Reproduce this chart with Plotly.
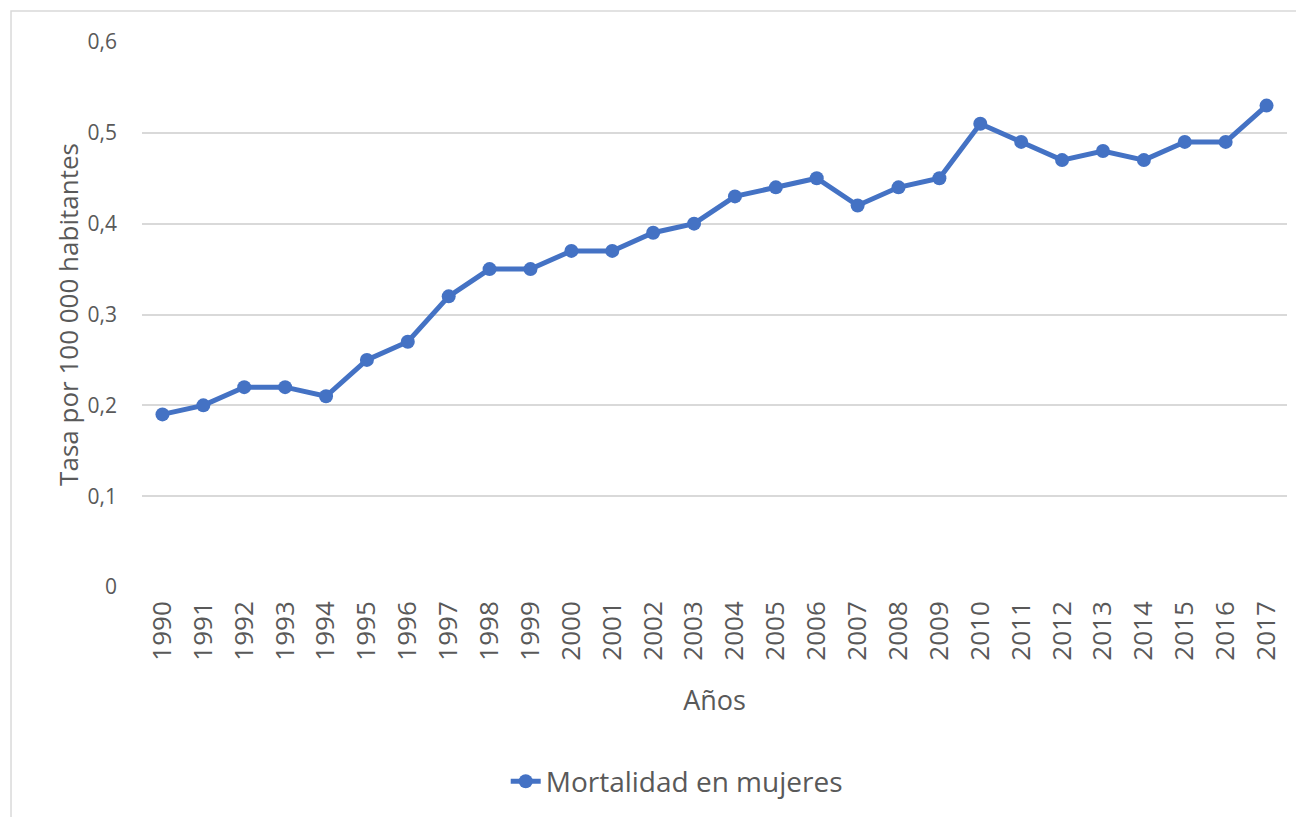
import plotly.graph_objects as go

years = [str(y) for y in range(1990, 2018)]
values = [0.19, 0.20, 0.22, 0.22, 0.21, 0.25, 0.27, 0.32, 0.35, 0.35,
          0.37, 0.37, 0.39, 0.40, 0.43, 0.44, 0.45, 0.42, 0.44, 0.45,
          0.51, 0.49, 0.47, 0.48, 0.47, 0.49, 0.49, 0.53]
series_name = "Mortalidad en mujeres"
y_ticks = [0, 0.1, 0.2, 0.3, 0.4, 0.5, 0.6]
y_labels = ["0", "0,1", "0,2", "0,3", "0,4", "0,5", "0,6"]

FONT = "Open Sans, Lato, sans-serif"
TXT = "#595959"
BLUE = "#4472C4"

fig = go.Figure()
fig.add_trace(go.Scatter(
    x=years, y=values, name=series_name, mode="lines+markers",
    line=dict(color=BLUE, width=5),
    marker=dict(color=BLUE, size=14),
))

fig.update_layout(
    width=1304, height=817,
    paper_bgcolor="white", plot_bgcolor="white",
    margin=dict(l=134, r=25, t=34, b=238),
    font=dict(family=FONT, color=TXT, size=18),
    showlegend=True,
    legend=dict(orientation="h", x=0.467, xanchor="center", y=-0.357, yanchor="middle",
                font=dict(size=28, color=TXT, family=FONT)),
    shapes=[dict(type="rect", xref="paper", yref="paper",
                 x0=-0.1144, x1=1.06, y0=-0.6, y1=1.057,
                 line=dict(color="#D9D9D9", width=1.5), layer="below")],
)
fig.update_xaxes(
    type="category", range=[-0.5, 27.5], automargin=False,
    tickangle=-90, showgrid=False, zeroline=False,
    showline=False, ticks="", tickfont=dict(size=26, color=TXT),
    ticklabelstandoff=8,
    title=dict(text="Años", font=dict(size=27, color=TXT), standoff=31),
)
fig.update_yaxes(
    range=[0, 0.6], tickvals=y_ticks, ticktext=y_labels, automargin=False,
    showgrid=True, gridcolor="#D9D9D9", gridwidth=1.5, zeroline=False,
    ticks="", tickfont=dict(size=21, color=TXT), ticklabelstandoff=24,
    title=dict(text="Tasa por 100 000 habitantes", font=dict(size=26, color=TXT), standoff=1),
)
fig.write_html("out.html")
